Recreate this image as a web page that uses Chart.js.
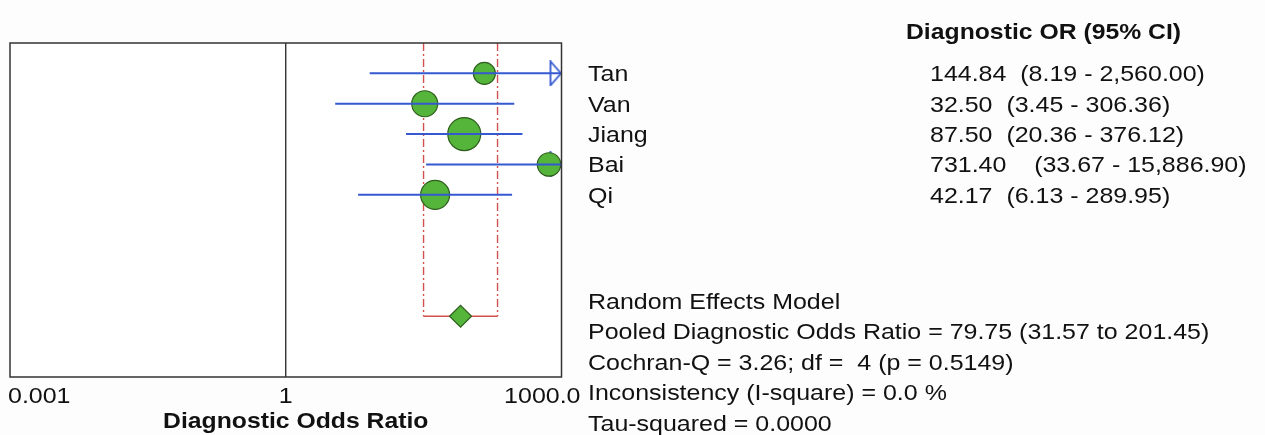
<!DOCTYPE html>
<html>
<head>
<meta charset="utf-8">
<script src="https://cdn.jsdelivr.net/npm/chart.js@4.4.1/dist/chart.umd.min.js"></script>
<style>
  html, body { margin: 0; padding: 0; background: #fdfdfd; }
  #chart { display: block; }
</style>
</head>
<body>
<canvas id="chart" width="1265" height="435"></canvas>
<script>
// study data
const studies = ['Tan', 'Van', 'Jiang', 'Bai', 'Qi'];
const oddsRatios = [144.84, 32.50, 87.50, 731.40, 42.17];
const ciLower = [8.19, 3.45, 20.36, 33.67, 6.13];
const ciUpper = [2560.00, 306.36, 376.12, 15886.90, 289.95];
const ciText = ['(8.19 - 2,560.00)', '(3.45 - 306.36)', '(20.36 - 376.12)', '(33.67 - 15,886.90)', '(6.13 - 289.95)'];
const valueText = ['144.84', '32.50', '87.50', '731.40', '42.17'];
// marker size (study weight)
const weights = [11, 13, 16.5, 11.7, 14.5];

const pooled = 79.75;
const pooledLower = 31.57;
const pooledUpper = 201.45;

const xTicks = [0.001, 1, 1000];
const xTickLabels = ['0.001', '1', '1000.0'];

const summaryLines = [
    'Random Effects Model',
    'Pooled Diagnostic Odds Ratio = 79.75 (31.57 to 201.45)',
    'Cochran-Q = 3.26; df =  4 (p = 0.5149)',
    'Inconsistency (I-square) = 0.0 %',
    'Tau-squared = 0.0000'
];

const X_MIN = 0.001, X_MAX = 1000;
const Y_MAX = 11;
const POOLED_ROW = 9;

const BLUE = '#3559d0';
const GREEN = '#55b43a';
const DARK_GREEN = '#2f5f1e';
const RED = '#d2504c';
const TEXT = '#111111';
const FONT = '"Liberation Sans", Arial, sans-serif';
const FONT_SIZE = 22.5;
const STRETCH = 1.11;
const STRETCH_BOLD = 1.1;

// open arrow head, tip at image centre
const arrowImg = document.createElement('canvas');
arrowImg.width = 26;
arrowImg.height = 26;
(function () {
    const a = arrowImg.getContext('2d');
    a.fillStyle = '#ffffff';
    a.strokeStyle = BLUE;
    a.lineWidth = 1.8;
    a.beginPath();
    a.moveTo(2, 1);
    a.lineTo(12.5, 13);
    a.lineTo(2, 25);
    a.closePath();
    a.fill();
    a.stroke();
})();

const rows = studies.map((s, i) => i + 1);

// one line dataset per CI, clipped at the axis max
const ciSets = studies.map((s, i) => ({
    type: 'line',
    data: [{ x: ciLower[i], y: rows[i] }, { x: Math.min(ciUpper[i], X_MAX), y: rows[i] }],
    borderColor: BLUE,
    borderWidth: 2,
    pointRadius: 0,
    order: 2
}));

const arrowSet = {
    type: 'scatter',
    data: studies.map((s, i) => ciUpper[i] > X_MAX ? { x: X_MAX, y: rows[i] } : null).filter(p => p),
    pointStyle: arrowImg,
    pointRadius: 12,
    order: 4
};

const pointSet = {
    type: 'scatter',
    data: studies.map((s, i) => ({ x: oddsRatios[i], y: rows[i] })),
    pointRadius: weights,
    pointStyle: 'circle',
    backgroundColor: GREEN,
    borderColor: DARK_GREEN,
    borderWidth: 1.2,
    order: 3
};

const diamondSet = {
    type: 'scatter',
    data: [{ x: pooled, y: POOLED_ROW }],
    pointStyle: 'rectRot',
    pointRadius: 11,
    backgroundColor: GREEN,
    borderColor: DARK_GREEN,
    borderWidth: 1.2,
    order: 1
};

const dashLeft = {
    type: 'line',
    data: [{ x: pooledLower, y: 0 }, { x: pooledLower, y: POOLED_ROW }],
    borderColor: RED, borderWidth: 1.4, borderDash: [8, 3, 2, 3], pointRadius: 0, order: 6
};
const dashRight = {
    type: 'line',
    data: [{ x: pooledUpper, y: 0 }, { x: pooledUpper, y: POOLED_ROW }],
    borderColor: RED, borderWidth: 1.4, borderDash: [8, 3, 2, 3], pointRadius: 0, order: 6
};
const pooledBar = {
    type: 'line',
    data: [{ x: pooledLower, y: POOLED_ROW }, { x: pooledUpper, y: POOLED_ROW }],
    borderColor: RED, borderWidth: 1.4, pointRadius: 0, order: 6
};
const nullLine = {
    type: 'line',
    data: [{ x: 1, y: 0 }, { x: 1, y: Y_MAX }],
    borderColor: '#222222', borderWidth: 1.3, pointRadius: 0, order: 7
};

function txt(ctx, s, x, y, align, bold) {
    ctx.save();
    ctx.font = (bold ? 'bold ' : '') + FONT_SIZE + 'px ' + FONT;
    ctx.fillStyle = TEXT;
    ctx.textBaseline = 'alphabetic';
    ctx.translate(x, y);
    ctx.scale(bold ? STRETCH_BOLD : STRETCH, 1);
    ctx.textAlign = align || 'left';
    ctx.fillText(s, 0, 0);
    ctx.restore();
}

const forestPlugin = {
    id: 'forest',
    beforeDatasetsDraw(chart) {
        const { ctx, chartArea: a } = chart;
        ctx.save();
        ctx.fillStyle = '#ffffff';
        ctx.fillRect(a.left, a.top, a.right - a.left, a.bottom - a.top);
        ctx.restore();
    },
    afterDraw(chart) {
        const { ctx, chartArea: a } = chart;
        const xs = chart.scales.x, ys = chart.scales.y;

        // plot frame
        ctx.save();
        ctx.strokeStyle = '#333333';
        ctx.lineWidth = 1.5;
        ctx.strokeRect(a.left, a.top, a.right - a.left, a.bottom - a.top);
        ctx.restore();

        // x tick labels
        xTicks.forEach((v, i) => {
            const px = xs.getPixelForValue(v);
            const by = a.bottom + 26;
            if (i === 0) txt(ctx, xTickLabels[i], px - 2, by, 'left');
            else if (i === xTicks.length - 1) txt(ctx, xTickLabels[i], px + 19, by, 'right');
            else txt(ctx, xTickLabels[i], px, by, 'center');
        });
        txt(ctx, 'Diagnostic Odds Ratio', (a.left + a.right) / 2 + 10, 428, 'center', true);

        // right-hand table
        txt(ctx, 'Diagnostic OR (95% CI)', 906, 39, 'left', true);
        const gaps = [2, 2, 2, 4, 2];
        studies.forEach((s, i) => {
            const by = ys.getPixelForValue(rows[i]) + 8;
            txt(ctx, s, 588, by, 'left');
            txt(ctx, valueText[i] + ' '.repeat(gaps[i]) + ciText[i], 930, by, 'left');
        });

        summaryLines.forEach((line, i) => {
            const by = ys.getPixelForValue(POOLED_ROW - 0.5 + i) + 8;
            txt(ctx, line, 588, by, 'left');
        });
    }
};

new Chart(document.getElementById('chart'), {
    type: 'scatter',
    data: {
        datasets: [...ciSets, arrowSet, pointSet, diamondSet, dashLeft, dashRight, pooledBar, nullLine]
    },
    options: {
        responsive: false,
        animation: false,
        devicePixelRatio: 1,
        layout: { autoPadding: false, padding: { left: 10, top: 43, right: 703.5, bottom: 58 } },
        plugins: { legend: { display: false }, tooltip: { enabled: false } },
        scales: {
            x: { type: 'logarithmic', min: X_MIN, max: X_MAX, display: false },
            y: { type: 'linear', min: 0, max: Y_MAX, reverse: true, display: false }
        }
    },
    plugins: [forestPlugin]
});
</script>
</body>
</html>
